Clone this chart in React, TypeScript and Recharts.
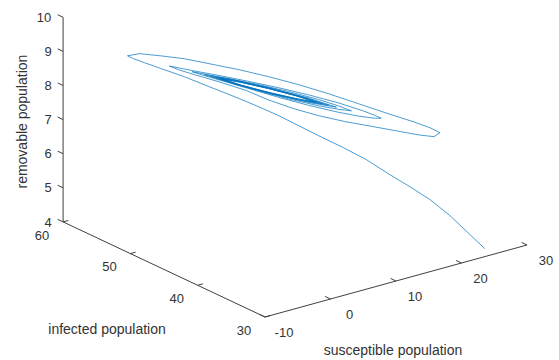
import { LineChart, Line, XAxis, YAxis, ReferenceDot } from "recharts";

// trajectory of the epidemic model, one entry per time step
const susceptible = [
  23.56, 22.2, 20.76, 19.16, 17.4, 15.8, 14.04, 12.2, 10.2, 8.6, 7, 5, 3.24, 1.4, -0.6, -2.44, -3.8, -4.68, -5.16,
  -4.2, -2.6, -0.6, 1.4, 3.8, 6.2, 8.6, 11, 13.4, 15.8, 17.8, 19.16, 19.96,
  19.48, 18.2, 16.6, 14.6, 12.36, 10.2, 8.2, 6.2, 4.36, 2.2, 0.2, -1, -1.8,
  -1, 0.2, 2.2, 4.6, 7, 9.4, 11.8, 13.8, 14.76, 15.24,
  14.76, 13.4, 11.8, 9.4, 7, 4.6, 2.6, 1, 0.04,
  1, 3, 5.4, 7.8, 10.2, 11.8, 12.84,
  11.8, 10.2, 7.8, 5.4, 3.4, 1.8, 1,
  3.16, 6.36, 9.48, 11.64, 9.64, 6.6, 3.56, 1.56,
  3.48, 6.28, 9.08, 11, 9.16, 6.52, 3.8, 1.96,
  3.64, 6.2, 8.84, 10.52, 8.84, 6.36, 3.88, 2.2,
  3.8, 6.2, 8.6, 10.2, 8.6, 6.28, 3.96, 2.36,
  3.88, 6.2, 8.44, 9.96, 8.44, 6.2, 3.96, 2.44,
  3.88, 6.12, 8.36, 9.8,
];
const infected = [
  30.01, 31.2, 32.46, 33.86, 35.4, 36.8, 38.34, 39.95, 41.7, 43.1, 44.5, 46.25, 47.79, 49.4, 51.15, 52.76, 53.95, 54.72, 55.14,
  54.3, 52.9, 51.15, 49.4, 47.3, 45.2, 43.1, 41, 38.9, 36.8, 35.05, 33.86, 33.16,
  33.58, 34.7, 36.1, 37.85, 39.81, 41.7, 43.45, 45.2, 46.81, 48.7, 50.45, 51.5, 52.2,
  51.5, 50.45, 48.7, 46.6, 44.5, 42.4, 40.3, 38.55, 37.71, 37.29,
  37.71, 38.9, 40.3, 42.4, 44.5, 46.6, 48.35, 49.75, 50.59,
  49.75, 48, 45.9, 43.8, 41.7, 40.3, 39.39,
  40.3, 41.7, 43.8, 45.9, 47.65, 49.05, 49.75,
  47.86, 45.06, 42.33, 40.44, 42.19, 44.85, 47.51, 49.26,
  47.58, 45.13, 42.68, 41, 42.61, 44.92, 47.3, 48.91,
  47.44, 45.2, 42.89, 41.42, 42.89, 45.06, 47.23, 48.7,
  47.3, 45.2, 43.1, 41.7, 43.1, 45.13, 47.16, 48.56,
  47.23, 45.2, 43.24, 41.91, 43.24, 45.2, 47.16, 48.49,
  47.23, 45.27, 43.31, 42.05,
];
const removable = [
  4.233, 4.664, 5.121, 5.544, 5.904, 6.21, 6.57, 6.869, 7.164, 7.411, 7.659, 7.924, 8.138, 8.349, 8.585, 8.767, 8.904, 8.996, 9.069,
  9.157, 9.144, 9.112, 9.023, 8.916, 8.779, 8.613, 8.417, 8.193, 7.968, 7.792, 7.652, 7.53,
  7.399, 7.418, 7.478, 7.554, 7.636, 7.75, 7.899, 8.095, 8.325, 8.515, 8.67, 8.77, 8.863,
  8.829, 8.776, 8.7, 8.594, 8.476, 8.338, 8.171, 7.99, 7.884, 7.819,
  7.805, 7.829, 7.895, 8.031, 8.195, 8.383, 8.541, 8.665, 8.75,
  8.709, 8.628, 8.522, 8.389, 8.225, 8.083, 7.966,
  7.983, 8.04, 8.172, 8.343, 8.498, 8.625, 8.692,
  8.621, 8.451, 8.238, 8.04, 8.105, 8.267, 8.473, 8.657,
  8.592, 8.444, 8.254, 8.079, 8.14, 8.28, 8.464, 8.633,
  8.577, 8.44, 8.261, 8.108, 8.166, 8.299, 8.467, 8.618,
  8.564, 8.435, 8.273, 8.128, 8.185, 8.31, 8.466, 8.608,
  8.556, 8.432, 8.28, 8.143, 8.198, 8.317, 8.469, 8.603,
  8.553, 8.434, 8.282, 8.153,
];

const sTicks = [-10, 0, 10, 20, 30];
const iTicks = [30, 40, 50, 60];
const rTicks = [4, 5, 6, 7, 8, 9, 10];

const W = 559;
const H = 360;
const S_MIN = -10, S_MAX = 30;
const I_MIN = 30, I_MAX = 60;
const R_MIN = 4, R_MAX = 10;

// fixed 3d camera: where the (S_MIN, I_MIN, R_MIN) corner sits and how far one unit moves
const view = { x0: 265, y0: 317, sx: 6.55, sy: -1.8, ix: -6.73, iy: -3.17, ry: -34.1 };

type Pt = { x: number; y: number | null };

function project(s: number, i: number, r: number): Pt {
  const ds = s - S_MIN;
  const di = i - I_MIN;
  const dr = r - R_MIN;
  return {
    x: view.x0 + view.sx * ds + view.ix * di,
    y: view.y0 + view.sy * ds + view.iy * di + view.ry * dr,
  };
}

const trajectory = susceptible.map((s, k) => project(s, infected[k], removable[k]));

const TICK = 0.8;
const segments: Pt[][] = [
  [project(S_MIN, I_MIN, R_MIN), project(S_MAX, I_MIN, R_MIN)],
  [project(S_MIN, I_MIN, R_MIN), project(S_MIN, I_MAX, R_MIN)],
  [project(S_MIN, I_MAX, R_MIN), project(S_MIN, I_MAX, R_MAX)],
  ...sTicks.map((s) => [project(s, I_MIN, R_MIN), project(s, I_MIN + TICK, R_MIN)]),
  ...iTicks.map((i) => [project(S_MIN, i, R_MIN), project(S_MIN + TICK, i, R_MIN)]),
  ...rTicks.map((r) => [project(S_MIN, I_MAX, r), project(S_MIN, I_MAX + TICK, r)]),
];
// null y breaks the line between segments
const axisPath: Pt[] = segments.flatMap(([a, b]) => [a, b, { x: b.x, y: null }]);

const TEXT = "#333333";

type Lbl = { key: string; x: number; y: number; text: string; size: number; angle?: number };

const labels: Lbl[] = [
  ...rTicks.map((r) => {
    const p = project(S_MIN, I_MAX, r);
    return { key: `r${r}`, x: p.x - (r >= 10 ? 19 : 15), y: p.y as number, text: String(r), size: 13 };
  }),
  ...iTicks.map((i) => {
    const p = project(S_MIN, i, R_MIN);
    return { key: `i${i}`, x: p.x - 21, y: (p.y as number) + 13, text: String(i), size: 13 };
  }),
  ...sTicks.map((s) => {
    const p = project(s, I_MIN, R_MIN);
    return { key: `s${s}`, x: p.x + 19, y: (p.y as number) + 15, text: String(s), size: 13 };
  }),
];

const zTitle = project(S_MIN, I_MAX, 7);
const iTitle = project(S_MIN, 45, R_MIN);
const sTitle = project(10, I_MIN, R_MIN);
const titles: Lbl[] = [
  { key: "zt", x: zTitle.x - 41, y: (zTitle.y as number) + 2, text: "removable population", size: 14, angle: -90 },
  { key: "it", x: iTitle.x - 57, y: (iTitle.y as number) + 60, text: "infected population", size: 14 },
  { key: "st", x: sTitle.x - 3, y: (sTitle.y as number) + 69, text: "susceptible population", size: 14 },
];

export default function App() {
  return (
    <div
      style={{
        position: "absolute",
        left: 0,
        top: 0,
        width: W,
        height: H,
        background: "#ffffff",
        fontFamily: '"Liberation Sans", Arial, sans-serif',
      }}
    >
      <LineChart width={W} height={H} margin={{ top: 0, right: 0, bottom: 0, left: 0 }}>
        <XAxis type="number" dataKey="x" domain={[0, W]} hide allowDataOverflow />
        <YAxis type="number" domain={[0, H]} reversed hide allowDataOverflow />
        <Line
          data={axisPath}
          dataKey="y"
          stroke="#404040"
          strokeWidth={1}
          dot={false}
          activeDot={false}
          connectNulls={false}
          isAnimationActive={false}
        />
        <Line
          data={trajectory}
          dataKey="y"
          stroke="#0072BD"
          strokeOpacity={0.7}
          strokeWidth={1}
          dot={false}
          activeDot={false}
          isAnimationActive={false}
        />
        {[...labels, ...titles].map((l) => (
          <ReferenceDot
            key={l.key}
            x={l.x}
            y={l.y}
            r={0}
            fill="none"
            stroke="none"
            ifOverflow="visible"
            label={{
              value: l.text,
              position: "center",
              fill: TEXT,
              fontSize: l.size,
              angle: l.angle ?? 0,
            }}
          />
        ))}
      </LineChart>
    </div>
  );
}
